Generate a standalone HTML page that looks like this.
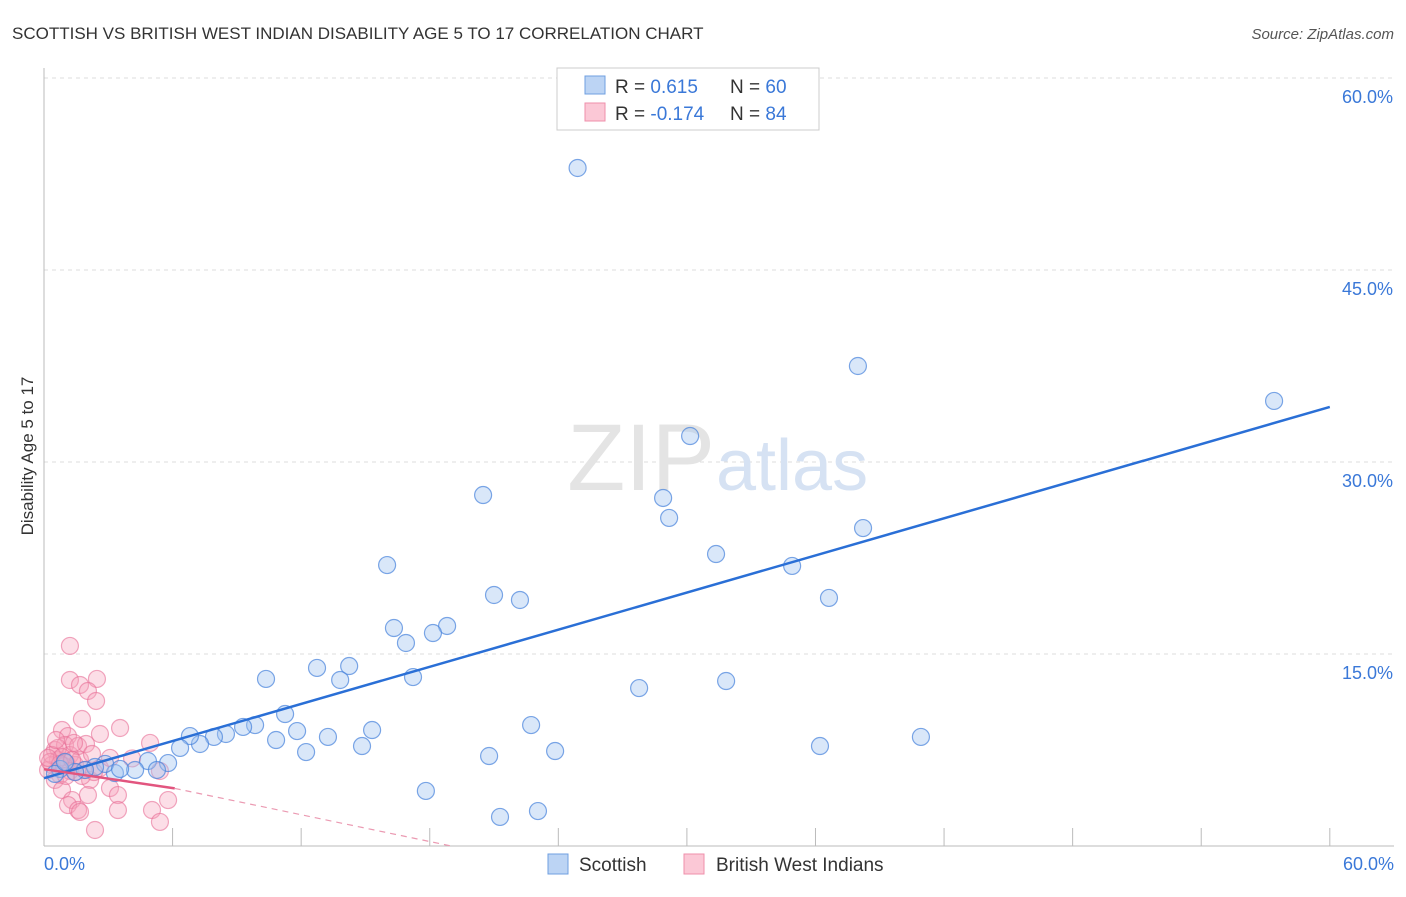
<!DOCTYPE html>
<html><head><meta charset="utf-8"><style>
body{margin:0;background:#fff;font-family:"Liberation Sans",sans-serif;}
svg text{font-family:"Liberation Sans",sans-serif;}
</style></head><body>
<svg width="1406" height="892" xmlns="http://www.w3.org/2000/svg">
<text x="12" y="39" font-size="17" fill="#333">SCOTTISH VS BRITISH WEST INDIAN DISABILITY AGE 5 TO 17 CORRELATION CHART</text>
<text x="1394" y="39" font-size="15" fill="#555" font-style="italic" text-anchor="end">Source: ZipAtlas.com</text>
<g id="grid"></g>
<text x="715" y="490" font-size="95" fill="#e4e4e4" text-anchor="end" font-family="Liberation Serif">ZIP</text>
<text x="716" y="490" font-size="72" fill="#d6e2f3">atlas</text>
<line x1="44" y1="68" x2="44" y2="846" stroke="#bbb"/>
<line x1="44" y1="846" x2="1394" y2="846" stroke="#bbb"/>
<text transform="translate(33,456) rotate(-90)" font-size="17" fill="#333" text-anchor="middle">Disability Age 5 to 17</text>
<text x="44" y="870" font-size="18" fill="#3a78d8">0.0%</text>
<text x="1394" y="870" font-size="18" fill="#3a78d8" text-anchor="end">60.0%</text>
<g id="pts"></g>
<g id="lines"></g>
<g>
<rect x="557" y="68" width="262" height="62" fill="#fff" stroke="#ccc"/>
<rect x="585" y="76" width="20" height="18" fill="#bcd4f4" stroke="#6f9fe0"/>
<rect x="585" y="103" width="20" height="18" fill="#fbc8d6" stroke="#ef8fab"/>
<text x="615" y="93" font-size="19" fill="#333">R = <tspan fill="#3a78d8">0.615</tspan><tspan x="730">N = </tspan><tspan fill="#3a78d8">60</tspan></text>
<text x="615" y="120" font-size="19" fill="#333">R = <tspan fill="#3a78d8">-0.174</tspan><tspan x="730">N = </tspan><tspan fill="#3a78d8">84</tspan></text>
</g>
<g>
<rect x="548" y="854" width="20" height="20" fill="#bcd4f4" stroke="#6f9fe0"/>
<text x="579" y="871" font-size="19" fill="#333">Scottish</text>
<rect x="684" y="854" width="20" height="20" fill="#fbc8d6" stroke="#ef8fab"/>
<text x="716" y="871" font-size="19" fill="#333">British West Indians</text>
</g>
</svg>
<script>
const yTicks=[15,30,45,60];
const xTicks=[6,12,18,24,30,36,42,48,54,60];
const blueX=[24.9,37.98,57.4,30.15,20.49,28.89,29.17,38.22,31.36,34.91,16.01,21,22.21,36.63,16.33,18.81,18.15,16.89,12.74,14.24,13.82,10.36,17.22,27.77,31.83,11.25,22.73,15.31,9.85,9.29,8.49,7.93,7.28,6.81,10.83,13.25,11.81,14.84,12.23,6.35,23.85,20.77,36.21,40.92,5.79,4.85,5.27,4.25,3.31,2.85,2.38,1.91,1.45,0.75,0.51,17.82,23.05,21.28,0.98,3.55];
const blueY=[52.97,37.5,34.77,32.03,27.42,27.19,25.63,24.84,22.81,21.88,21.95,19.61,19.22,19.38,17.03,17.19,16.64,15.86,13.91,14.06,12.97,13.05,13.2,12.34,12.89,10.31,9.45,9.06,9.45,9.3,8.75,8.52,7.97,8.59,8.28,8.52,8.98,7.81,7.34,7.66,7.42,7.03,7.81,8.52,6.48,6.64,5.94,5.94,5.7,6.41,6.17,5.94,5.78,6.02,5.63,4.3,2.73,2.27,6.56,6.02];
const pinkX=[1.21,2.47,1.21,1.68,2.05,2.43,1.77,3.55,0.84,2.61,4.95,1.12,4.11,5.41,0.51,0.65,0.37,0.19,0.75,0.98,1.21,1.45,1.68,1.91,2.15,0.51,0.84,1.31,1.12,1.59,2.05,3.08,3.45,5.79,5.04,3.45,1.68,5.41,2.38,1.45,1.03,0.65,0.37,0.28,2.61,3.08,0.93,1.21,1.59,1.96,2.24,0.56,0.84,1.4,1.77,2.33,0.75,1.03,1.31,0.19];
const pinkY=[15.63,13.05,12.97,12.58,12.11,11.33,9.92,9.22,9.06,8.75,8.05,8.59,6.84,5.86,7.5,6.72,6.33,5.94,5.55,7.89,7.11,6.33,6.72,5.94,5.16,5.16,4.38,3.59,3.2,2.81,3.98,4.53,3.98,3.59,2.81,2.81,2.66,1.88,1.25,5.78,6.48,7.66,7.11,6.56,6.09,6.88,6.25,5.86,7.81,7.97,7.19,8.28,6.95,8.05,5.47,5.78,6.41,5.47,6.72,6.88];
const blueLine=[0,5.3,60,34.3];
const pinkLine=[0,6,6.1,4.5,19,0];
const sx=v=>44+v*21.43, sy=v=>846-v*12.8;
const NS='http://www.w3.org/2000/svg';
function mk(t,a,p){const e=document.createElementNS(NS,t);for(const k in a)e.setAttribute(k,a[k]);p.appendChild(e);return e;}
const grid=document.getElementById('grid');
yTicks.forEach(v=>{
 const l=mk('line',{x1:44,x2:1394,y1:sy(v),y2:sy(v),stroke:'#ddd','stroke-dasharray':'4,4'},grid);
 
 
 const t=mk('text',{x:1393,y:sy(v)+25,'font-size':18,fill:'#3a78d8','text-anchor':'end'},grid);
 t.textContent=v.toFixed(1)+'%';
 
 
});
xTicks.forEach(v=>{
 const l=mk('line',{x1:sx(v),x2:sx(v),y1:828,y2:846,stroke:'#bbb'},grid);
 
 
});
const pts=document.getElementById('pts');
pinkX.forEach((x,i)=>{
 const c=mk('circle',{cx:sx(x),cy:sy(pinkY[i]),r:8.5,fill:'rgba(246,160,185,0.35)',stroke:'rgba(232,110,150,0.6)','stroke-width':1.2},pts);
 
 
});
blueX.forEach((x,i)=>{
 const c=mk('circle',{cx:sx(x),cy:sy(blueY[i]),r:8.5,fill:'rgba(160,195,240,0.4)',stroke:'rgba(70,130,220,0.7)','stroke-width':1.2},pts);
 
 
});
const ln=document.getElementById('lines');
let b=mk('line',{x1:sx(blueLine[0]),y1:sy(blueLine[1]),x2:sx(blueLine[2]),y2:sy(blueLine[3]),stroke:'#2a6fd6','stroke-width':2.5},ln);


let p=mk('line',{x1:sx(pinkLine[0]),y1:sy(pinkLine[1]),x2:sx(pinkLine[2]),y2:sy(pinkLine[3]),stroke:'#e2557f','stroke-width':2.5},ln);


let pd=mk('line',{x1:sx(pinkLine[2]),y1:sy(pinkLine[3]),x2:sx(pinkLine[4]),y2:sy(pinkLine[5]),stroke:'#eb9ab2','stroke-width':1.2,'stroke-dasharray':'6,5'},ln);


</script>
</body></html>
